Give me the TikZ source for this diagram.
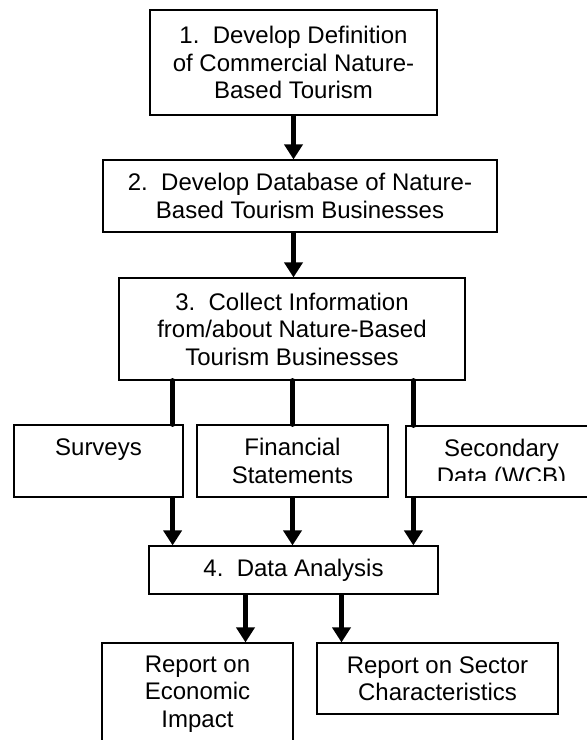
\documentclass[tikz,border=0pt]{standalone}
\usepackage{fontspec}
\setmainfont{Liberation Sans}
\usepackage{tikz}
\usetikzlibrary{arrows.meta,calc}

\tikzset{
  txt/.style={align=center, inner sep=0pt, font=\fontsize{24}{27.5}\selectfont},
  box/.style={txt, draw, line width=1.2pt},
  flow/.style={line width=5pt, -{Triangle[width=18pt,length=15pt]}},
  link/.style={line width=5pt, line cap=round},
}

\begin{document}
\begin{tikzpicture}[x=1pt,y=-1pt]
    \useasboundingbox (0,0) rectangle (587,740);
    \clip (0,0) rectangle (587,740);

    \node[box, minimum width=287pt, minimum height=105pt] (def) at (293.5,62.5) {1.\ \ Develop Definition\\of Commercial Nature-\\Based Tourism};
    \node[box, minimum width=394pt, minimum height=72pt] (db) at (300,196) {2.\ \ Develop Database of Nature-\\Based Tourism Businesses};
    \node[box, minimum width=346pt, minimum height=102pt] (collect) at (292,329) {3.\ \ Collect Information\\from/about Nature-Based\\Tourism Businesses};

    \node[box, minimum width=169pt, minimum height=72pt] (surveys) at (98.5,461) {Surveys\\\phantom{Statements}};
    \node[box, minimum width=191pt, minimum height=72pt] (financial) at (292.5,461) {Financial\\Statements};
    \node[box, minimum width=191pt, minimum height=71pt] (secondary) at (501.5,461.5) {};
    \begin{scope}
      \clip (secondary.north west) rectangle ($(secondary.east)+(0,19)$);
      \node[txt] (secondarytext) at ($(secondary)+(0,3)$) {Secondary\\Data (WCB)};
    \end{scope}

    \node[box, minimum width=289pt, minimum height=48pt] (analysis) at (293.5,570) {4.\ \ Data Analysis};
    \node[box, minimum width=191pt, minimum height=102pt] (econ) at (197.5,694) {Report on\\Economic\\Impact};
    \node[box, minimum width=241pt, minimum height=71pt] (sector) at (437.5,678.5) {Report on Sector\\Characteristics};

    \coordinate (sv) at ($(surveys.north east)+(-11,0)$);
    \coordinate (fs) at (financial.north);
    \coordinate (sd) at ($(secondary.north west)+(8,0)$);
    \coordinate (ae) at ($(analysis.south)+(-48,0)$);
    \coordinate (as) at ($(analysis.south)+(48,0)$);

    \draw[flow] (def.south) -- (def.south |- db.north);
    \draw[flow] (db.south -| def.south) -- (collect.north -| def.south);

    \draw[link] (collect.south -| sv) -- (sv);
    \draw[link] (collect.south -| fs) -- (fs);
    \draw[link] (collect.south -| sd) -- (sd);

    \draw[flow] (surveys.south -| sv) -- (analysis.north -| sv);
    \draw[flow] (financial.south) -- (analysis.north -| fs);
    \draw[flow] (secondary.south -| sd) -- (analysis.north -| sd);

    \draw[flow] (ae) -- (econ.north -| ae);
    \draw[flow] (as) -- (sector.north -| as);
\end{tikzpicture}
\end{document}
